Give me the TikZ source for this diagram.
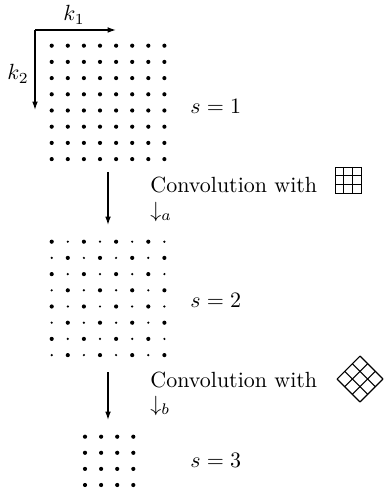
\documentclass[tikz,border=0pt]{standalone}
\usetikzlibrary{arrows.meta, positioning}
\begin{document}
\begin{tikzpicture}[
    % one unit = one pixel of the original figure, y grows downward
    x=0.455pt, y=-0.455pt,
    arrow/.style={-{Latex[length=3.8pt, width=2.6pt]}, semithick},
    lbl/.style={anchor=west, inner sep=0pt},
    bigdot/.style={radius=0.95pt},
    smalldot/.style={radius=0.55pt}
]
    \useasboundingbox (0,0) rectangle (384,495);

    % --- Axes ---
    \coordinate (origin) at (35,30);
    \coordinate (k1end) at (116,30);
    \coordinate (k2end) at (35,110);
    \draw[arrow] (origin) -- (k1end);
    \draw[arrow] (origin) -- (k2end);
    \node (k1) at (74,15) {$k_1$};
    \node (k2) at (18,74) {$k_2$};

    % --- Level s=1: full lattice ---
    \foreach \i in {0,...,7}
      \foreach \j in {0,...,7}
        \fill (51.7+16.1*\i, 45.7+16.2*\j) circle[bigdot];
    \node[lbl] (s1) at (190,106) {$s=1$};

    % --- Level s=2: quincunx lattice ---
    \foreach \i in {0,...,7}
      \foreach \j in {0,...,7} {
        \pgfmathtruncatemacro\odd{mod(\i+\j,2)}
        \ifnum\odd=0
          \fill (51.7+16.1*\i, 241.7+16.2*\j) circle[bigdot];
        \else
          \fill (51.7+16.1*\i, 241.7+16.2*\j) circle[smalldot];
        \fi
      }
    \node[lbl] (s2) at (190,300) {$s=2$};

    % --- Level s=3: subsampled lattice ---
    \foreach \i in {0,...,3}
      \foreach \j in {0,...,3}
        \fill (85+16.1*\i, 436.7+16.1*\j) circle[bigdot];
    \node[lbl] (s3) at (190,460) {$s=3$};

    % --- Steps between levels ---
    \coordinate (g1out) at (108,172);
    \coordinate (g2in) at (108,225);
    \coordinate (g2out) at (108,372);
    \coordinate (g3in) at (108,420);
    \draw[arrow] (g1out) -- (g2in);
    \draw[arrow] (g2out) -- (g3in);

    \node[lbl] (conv1) at (150,185) {Convolution with};
    \node[lbl] (down1) at (150,212) {$\downarrow_a$};
    \node[lbl] (conv2) at (150,380) {Convolution with};
    \node[lbl] (down2) at (150,406) {$\downarrow_b$};

    % --- Filter supports ---
    \draw (335,167) rectangle (361,193);
    \foreach \t in {1,2} {
      \draw (335+8.67*\t,167) -- (335+8.67*\t,193);
      \draw (335,167+8.67*\t) -- (361,167+8.67*\t);
    }
    \begin{scope}[shift={(360,379)}, rotate=45, line width=0.5pt]
      \foreach \t in {0,...,3} {
        \draw (-16.25+10.83*\t,-16.25) -- (-16.25+10.83*\t,16.25);
        \draw (-16.25,-16.25+10.83*\t) -- (16.25,-16.25+10.83*\t);
      }
    \end{scope}
\end{tikzpicture}
\end{document}
